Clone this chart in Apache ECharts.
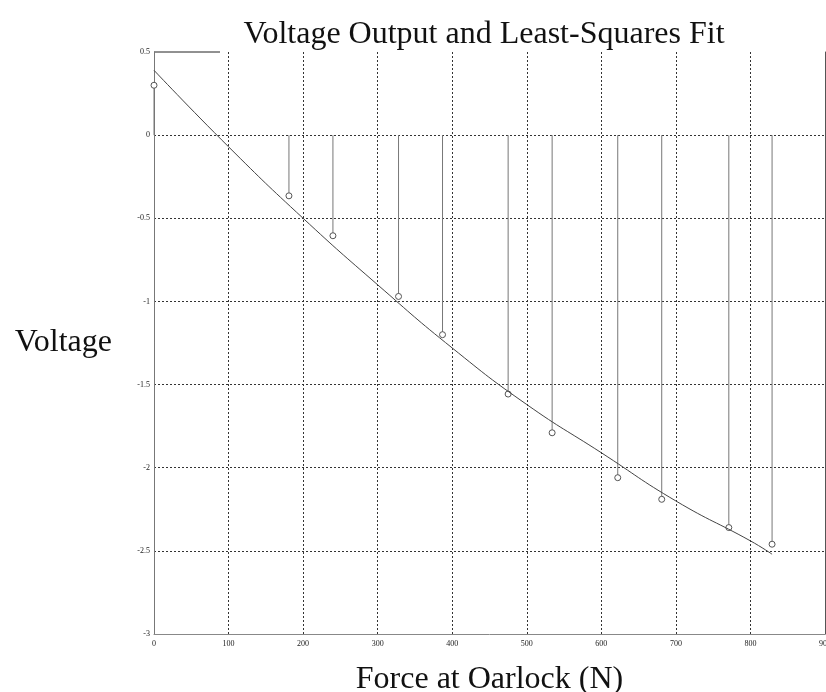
<!DOCTYPE html>
<html>
<head>
<meta charset="utf-8">
<script src="https://cdn.jsdelivr.net/npm/echarts@6/dist/echarts.min.js"></script>
<style>
  html, body { margin: 0; padding: 0; background: #fff; }
  #chart { width: 826px; height: 692px; }
</style>
</head>
<body>
<div id="chart"></div>
<script>
// Measured points (stem plot)
const forceN = [0, 181, 240, 328, 387, 475, 534, 622, 681, 771, 829];
const voltage = [0.30, -0.365, -0.605, -0.97, -1.20, -1.557, -1.79, -2.06, -2.19, -2.36, -2.46];

// Least-squares fit curve at a few forces
const fitForce = [0, 100, 200, 300, 400, 500, 600, 700, 800, 829];
const fitVoltage = [0.39, -0.07, -0.50, -0.90, -1.28, -1.62, -1.91, -2.20, -2.44, -2.52];

const serif = 'Liberation Serif';

const chart = echarts.init(document.getElementById('chart'));

const stemData = forceN.map((f, i) => [f, voltage[i]]);
const fitData = fitForce.map((f, i) => [f, fitVoltage[i]]);

// draws one stem from v=0 down to the value, with an open circle at the end
function renderStem(params, api) {
    const base = api.coord([api.value(0), 0]);
    const end = api.coord([api.value(0), api.value(1)]);
    return {
        type: 'group',
        children: [
            {
                type: 'line',
                shape: { x1: base[0], y1: base[1], x2: end[0], y2: end[1] },
                style: { stroke: '#777', lineWidth: 1 }
            },
            {
                type: 'circle',
                shape: { cx: end[0], cy: end[1], r: 3 },
                style: { fill: '#fff', stroke: '#555', lineWidth: 1 }
            }
        ]
    };
}

const option = {
    backgroundColor: '#fff',
    animation: false,
    title: {
        text: 'Voltage Output and Least-Squares Fit',
        left: 479,
        top: 14,
        textAlign: 'center',
        textStyle: { fontFamily: serif, fontSize: 32, fontWeight: 'normal', color: '#111' }
    },
    grid: { left: 154, top: 52, right: 1, bottom: 58, outerBoundsMode: 'none', containLabel: false },
    xAxis: {
        type: 'value',
        min: 0,
        max: 900,
        interval: 100,
        name: 'Force at Oarlock (N)',
        nameLocation: 'middle',
        nameGap: 30,
        nameTextStyle: { fontFamily: serif, fontSize: 32, color: '#111' },
        axisLine: { show: true, onZero: false, lineStyle: { color: '#888', width: 1 } },
        axisTick: { show: false },
        axisLabel: { fontFamily: serif, fontSize: 8, color: '#222', margin: 6 },
        splitLine: {
            show: true,
            showMinLine: false,
            showMaxLine: false,
            lineStyle: { color: '#333', type: [2, 2], width: 1 }
        }
    },
    yAxis: [
        {
            type: 'value',
            min: -3,
            max: 0.5,
            interval: 0.5,
            name: 'Voltage',
            nameLocation: 'middle',
            nameRotate: 0,
            nameGap: 42,
            nameTextStyle: { fontFamily: serif, fontSize: 32, color: '#111', padding: [0, 0, 22, 0] },
            axisLine: { show: true, onZero: false, lineStyle: { color: '#777', width: 1 } },
            axisTick: { show: false },
            axisLabel: { fontFamily: serif, fontSize: 8, color: '#222', margin: 4 },
            splitLine: {
                show: true,
                showMinLine: false,
                showMaxLine: false,
                lineStyle: { color: '#333', type: [2, 2], width: 1 }
            }
        },
        {
            type: 'value',
            min: -3,
            max: 0.5,
            interval: 0.5,
            position: 'right',
            axisLine: { show: true, onZero: false, lineStyle: { color: '#555', width: 1 } },
            axisTick: { show: false },
            axisLabel: { show: false },
            splitLine: { show: false }
        }
    ],
    graphic: [
        {
            type: 'line',
            shape: { x1: 154, y1: 52, x2: 220, y2: 52 },
            style: { stroke: '#222', lineWidth: 1 }
        }
    ],
    series: [
        {
            name: 'Measured',
            type: 'custom',
            renderItem: renderStem,
            data: stemData,
            z: 3
        },
        {
            name: 'Fit',
            type: 'line',
            data: fitData,
            smooth: true,
            showSymbol: false,
            lineStyle: { color: '#444', width: 1 },
            z: 4
        }
    ]
};

chart.setOption(option);
</script>
</body>
</html>
